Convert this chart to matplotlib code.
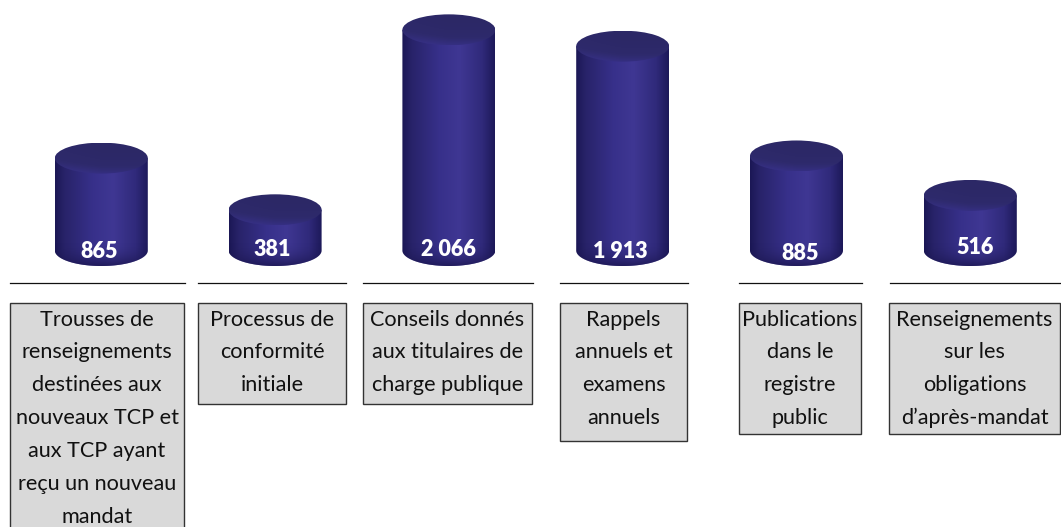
import matplotlib
matplotlib.use('Agg')
import matplotlib.pyplot as plt
import numpy as np
from matplotlib.colors import LinearSegmentedColormap
from matplotlib.patches import Ellipse, Rectangle, PathPatch
from matplotlib.path import Path

plt.rcParams['font.family'] = ['Lato', 'DejaVu Sans']

# data
values = [865, 381, 2066, 1913, 885, 516]
value_labels = ['865', '381', '2 066', '1 913', '885', '516']
categories = [
    ['Trousses de', 'renseignements', 'destinées aux', 'nouveaux TCP et',
     'aux TCP ayant', 'reçu un nouveau', 'mandat'],
    ['Processus de', 'conformité', 'initiale'],
    ['Conseils donnés', 'aux titulaires de', 'charge publique'],
    ['Rappels', 'annuels et', 'examens', 'annuels'],
    ['Publications', 'dans le', 'registre', 'public'],
    ['Renseignements', 'sur les', 'obligations', 'd’après-mandat'],
]

# layout in pixels
W, H = 1061, 527
step_px = 173.8
first_px = 101.3
base_px = 250.5
px_per_unit = 0.1068
half_w_px = 46.5
half_h_px = 15.5
label_pos = [(99, 251), (272, 249), (448, 250), (620, 252), (800, 254), (975, 248)]
rules = [(10, 185), (198, 346), (363, 533), (560, 688), (739, 862), (890, 1061)]
boxes = [(10, 185, 527), (198, 347, 404), (363, 533, 404), (560, 688, 441),
         (739, 862, 434), (889, 1061, 434)]

side_cmap = LinearSegmentedColormap.from_list('side', [
    (0.0, '#1b1755'), (0.1, '#282369'), (0.4, '#37308a'), (0.62, '#3f3793'),
    (0.86, '#302a7b'), (1.0, '#1d1959')])
top_cmap = LinearSegmentedColormap.from_list('top', ['#2c2866', '#2e2a6c', '#38318a'])
shade_cmap = LinearSegmentedColormap.from_list(
    'shade', [(0.10, 0.08, 0.30, 0.0), (0.10, 0.08, 0.30, 0.75)])

fig = plt.figure(figsize=(W / 100, H / 100), dpi=100)

# bars: x is the category index, y the value
ax = fig.add_axes([0, 0, 1, 1])
xlim = (-first_px / step_px, (W - first_px) / step_px)
ylim = ((base_px - H) / px_per_unit, base_px / px_per_unit)
ax.axis('off')

half_w = half_w_px / step_px
half_h = half_h_px / px_per_unit
t = np.linspace(0, np.pi, 80)
grad = np.linspace(0, 1, 256).reshape(1, -1)
shade = np.linspace(0, 1, 32).reshape(-1, 1) ** 2

# lid shading: darker towards the upper right, lighter at the front rim
xn, yn = np.meshgrid(np.linspace(0, 1, 128), np.linspace(0, 1, 64))
lid_img = np.clip(0.85 * yn ** 2 + 0.5 * np.clip(0.5 - xn, 0, 1), 0, 1)

for i, v in enumerate(values):
    # side of the cylinder: down one edge, round the lower arc, up the other
    xs = np.concatenate([[i - half_w], i - half_w * np.cos(t), [i + half_w]])
    ys = np.concatenate([[v], -half_h * np.sin(t), [v]])
    clip = PathPatch(Path(np.column_stack([xs, ys])), transform=ax.transData,
                     fc='none', ec='none')
    ax.add_patch(clip)
    im = ax.imshow(grad, cmap=side_cmap, aspect='auto', zorder=2,
                   extent=(i - half_w, i + half_w, -half_h, v))
    im.set_clip_path(clip)

    # darker towards the bottom arc
    im3 = ax.imshow(shade, cmap=shade_cmap, aspect='auto', zorder=2.5, origin='upper',
                    extent=(i - half_w, i + half_w, -half_h, 0.6 * half_h))
    im3.set_clip_path(clip)

    # lid
    lid = Ellipse((i, v), 2 * half_w, 2 * half_h, fc='none', ec='none',
                  transform=ax.transData)
    ax.add_patch(lid)
    im2 = ax.imshow(lid_img, cmap=top_cmap, vmin=0, vmax=1, aspect='auto', zorder=3,
                    origin='upper',
                    extent=(i - half_w, i + half_w, v - half_h, v + half_h))
    im2.set_clip_path(lid)

ax.set_xlim(*xlim)
ax.set_ylim(*ylim)

# overlay in pixel coordinates for the text boxes
ov = fig.add_axes([0, 0, 1, 1])
ov.set_xlim(0, W)
ov.set_ylim(H, 0)
ov.axis('off')
ov.patch.set_alpha(0)

for (x, y), s in zip(label_pos, value_labels):
    ov.text(x, y, s, color='white', fontsize=15.5, fontweight='heavy',
            ha='center', va='center', zorder=5)

for x0, x1 in rules:
    ov.plot([x0, x1], [283, 283], color='#111111', lw=0.9, zorder=4)

for (x0, x1, y1), lines in zip(boxes, categories):
    # first box runs past the bottom of the picture, so no lower border shows
    ov.add_patch(Rectangle((x0, 303), x1 - x0 - 1, y1 - 303 + (20 if y1 == H else 0),
                           fc='#d9d9d9', ec='#333333', lw=1.0, zorder=4))
    xc = (x0 + x1) / 2 - 0.5
    for k, line in enumerate(lines):
        ov.text(xc, 319.5 + k * 32.9, line, color='#111111', fontsize=15.6,
                ha='center', va='center', zorder=5)

fig.savefig('out.png', dpi=100)
